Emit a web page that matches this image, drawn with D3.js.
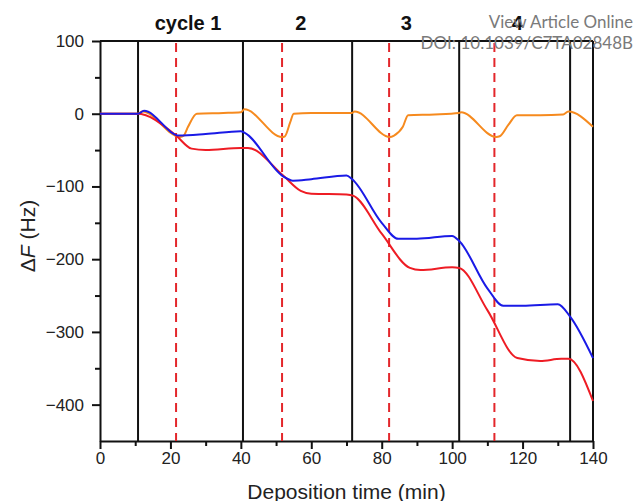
<!DOCTYPE html>
<html>
<head>
<meta charset="utf-8">
<script src="https://cdn.jsdelivr.net/npm/d3@7"></script>
<style>
  body { margin: 0; background: #fff; }
  svg { display: block; }
  .axis text { font-family: "Liberation Sans", Arial, sans-serif; font-size: 17px; fill: #222; }
  .axis path, .axis line { stroke: #111; stroke-width: 2; }
</style>
</head>
<body>
<div id="chart"></div>
<script>
// time (min) and frequency shift (Hz)
var blueT = [0, 10.8, 12.5, 22.5, 30, 40, 41, 52, 54.8, 60, 70, 71.6, 80, 84.7, 90, 100, 102, 110, 114.5, 120, 130, 133.5, 140];
var blueF = [0, 0, 4, -30, -28, -24, -26, -86, -92, -90, -85, -90, -150, -172, -172, -168, -175, -240, -264, -264, -262, -279, -336];

var redT = [0, 10.8, 13, 21.6, 26, 30, 40, 42, 52, 57, 60, 70, 72, 80, 88, 91, 100, 102, 110, 118.5, 125, 131, 133, 140];
var redF = [0, 0, -2, -30, -48, -50, -47, -47, -85, -106, -110, -111, -113, -165, -212, -215, -211, -212, -270, -336, -340, -337, -337, -395];

var orangeT = [0, 10.8, 12, 22.8, 23.8, 25, 27.5, 35, 40, 41, 51.7, 52.5, 54, 55, 60, 71.5, 72.3, 82.3, 83.5, 86, 87.5, 95, 102, 102.5, 112.5, 113.5, 116, 118.4, 125, 131.5, 133, 140];
var orangeF = [0, 0, 3, -32, -30, -18, 0, 1, 2, 6, -32, -31, -12, 0, 1, 1, 3, -32, -30, -18, -2, -1, 1, 2, -32, -31, -15, -2, -2, -1, 3, -18];

var solidMarks = [10.8, 40.6, 71.6, 102, 133.5];   // start of each cycle
var dashedMarks = [21.6, 51.7, 82.1, 112];          // switch points
var cycleLabels = ["cycle 1", "2", "3", "4"];
var cycleLabelAt = [25, 57, 87, 118.5];

var xTicks = [0, 20, 40, 60, 80, 100, 120, 140];
var xMinor = [10, 30, 50, 70, 90, 110, 130];
var yTicks = [-400, -300, -200, -100, 0, 100];
var yMinor = [-350, -250, -150, -50, 50];

var W = 635, H = 501;
var margin = {top: 41, right: 42, bottom: 60, left: 100};
var width = W - margin.left - margin.right,
    height = H - margin.top - margin.bottom;

var svg = d3.select("#chart").append("svg")
    .attr("width", W)
    .attr("height", H);

var g = svg.append("g")
    .attr("transform", "translate(" + margin.left + "," + margin.top + ")");

var x = d3.scaleLinear().domain([0, 140]).range([0, width]);
var y = d3.scaleLinear().domain([-450, 100]).range([height, 0]);

// minor ticks
g.append("g")
    .attr("class", "axis")
    .attr("transform", "translate(0," + height + ")")
    .call(d3.axisBottom(x).tickValues(xMinor).tickSize(5).tickFormat(""))
    .select(".domain").remove();
g.append("g")
    .attr("class", "axis")
    .call(d3.axisLeft(y).tickValues(yMinor).tickSize(5).tickFormat(""))
    .select(".domain").remove();

// major axes
g.append("g")
    .attr("class", "axis")
    .attr("transform", "translate(0," + height + ")")
    .call(d3.axisBottom(x).tickValues(xTicks).tickSize(8).tickSizeOuter(0).tickPadding(3));
g.append("g")
    .attr("class", "axis")
    .call(d3.axisLeft(y).tickValues(yTicks).tickSize(8).tickSizeOuter(0).tickPadding(8));

// top and right frame
g.append("line").attr("x1", 0).attr("x2", width).attr("y1", 0).attr("y2", 0)
    .attr("stroke", "#111").attr("stroke-width", 2);
g.append("line").attr("x1", width).attr("x2", width).attr("y1", 0).attr("y2", height)
    .attr("stroke", "#111").attr("stroke-width", 2);

// cycle markers
g.selectAll(".solid").data(solidMarks).enter().append("line")
    .attr("class", "solid")
    .attr("x1", function(d) { return x(d); })
    .attr("x2", function(d) { return x(d); })
    .attr("y1", 0).attr("y2", height)
    .attr("stroke", "#111").attr("stroke-width", 2);

g.selectAll(".dashed").data(dashedMarks).enter().append("line")
    .attr("class", "dashed")
    .attr("x1", function(d) { return x(d); })
    .attr("x2", function(d) { return x(d); })
    .attr("y1", 2).attr("y2", height)
    .attr("stroke", "#e3262b").attr("stroke-width", 2)
    .attr("stroke-dasharray", "9,6");

// series
var line = d3.line()
    .x(function(d) { return x(d[0]); })
    .y(function(d) { return y(d[1]); })
    .curve(d3.curveMonotoneX);

var series = [
    {id: "orange", t: orangeT, f: orangeF, color: "#f68a1e"},
    {id: "red", t: redT, f: redF, color: "#ee1c24"},
    {id: "blue", t: blueT, f: blueF, color: "#1a1ae6"}
];

g.selectAll(".series").data(series).enter().append("path")
    .attr("class", "series")
    .attr("fill", "none")
    .attr("stroke-width", 2)
    .attr("stroke-linejoin", "round")
    .attr("stroke", function(d) { return d.color; })
    .attr("d", function(d) { return line(d.t.map(function(t, i) { return [t, d.f[i]]; })); });

// cycle labels
g.selectAll(".cyc").data(cycleLabels).enter().append("text")
    .attr("class", "cyc")
    .attr("x", function(d, i) { return x(cycleLabelAt[i]); })
    .attr("y", -11)
    .attr("text-anchor", "middle")
    .style("font-family", "Liberation Sans, Arial, sans-serif")
    .style("font-weight", "bold")
    .style("font-size", "20px")
    .style("fill", "#111")
    .text(function(d) { return d; });

// axis titles
svg.append("text")
    .attr("x", margin.left + width / 2)
    .attr("y", 499)
    .attr("text-anchor", "middle")
    .style("font-family", "Liberation Sans, Arial, sans-serif")
    .style("font-size", "21px")
    .style("fill", "#222")
    .text("Deposition time (min)");

var yl = svg.append("text")
    .attr("transform", "translate(35,236) rotate(-90)")
    .attr("text-anchor", "middle")
    .style("font-family", "Liberation Sans, Arial, sans-serif")
    .style("font-size", "21px")
    .style("fill", "#222");
yl.append("tspan").text("\u0394");
yl.append("tspan").style("font-style", "italic").text("F");
yl.append("tspan").text(" (Hz)");

// watermark
svg.append("text")
    .attr("x", 633).attr("y", 28)
    .attr("text-anchor", "end")
    .style("font-family", "Lato, sans-serif")
    .style("font-size", "17px")
    .style("fill", "#7a7a7a")
    .text("View Article Online");
svg.append("text")
    .attr("x", 633).attr("y", 49)
    .attr("text-anchor", "end")
    .style("font-family", "Lato, sans-serif")
    .style("font-size", "17px")
    .style("fill", "#7a7a7a")
    .text("DOI: 10.1039/C7TA02848B");
</script>
</body>
</html>
